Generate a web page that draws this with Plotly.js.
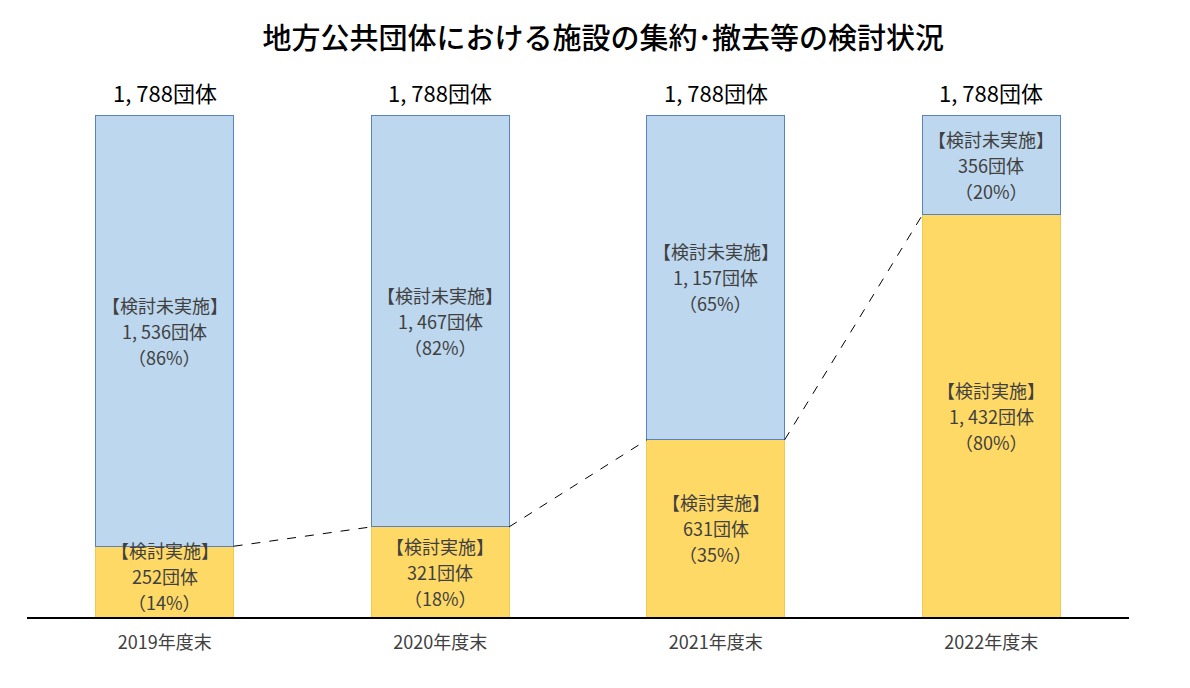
<!DOCTYPE html>
<html><head><meta charset="utf-8">
<script src="https://cdn.plot.ly/plotly-3.0.1.min.js"></script>
<style>html,body{margin:0;padding:0;background:#fff;}#chart{width:1190px;height:688px;}</style>
</head><body><div id="chart"></div>
<script>
const categories = ['2019年度末','2020年度末','2021年度末','2022年度末'];
const implemented = [252, 321, 631, 1432];
const notImplemented = [1536, 1467, 1157, 356];
const implementedPct = ['14%','18%','35%','80%'];
const notImplementedPct = ['86%','82%','65%','20%'];
const totals = [1788, 1788, 1788, 1788];
const implLabel = '【検討実施】';
const notImplLabel = '【検討未実施】';

const FONT = '"Liberation Sans Narrow", "Noto Sans CJK JP", sans-serif';
const fmt = n => n >= 1000 ? Math.floor(n/1000) + ', ' + String(n%1000).padStart(3,'0') : String(n);

const xs = categories.map((c,i)=>i);
const traces = [
  {type:'bar', x: xs, y: implemented, width:0.5,
   marker:{color:'#FFD966', line:{color:'#F2C94C', width:1}}, hoverinfo:'skip'},
  {type:'bar', x: xs, y: notImplemented, width:0.5,
   marker:{color:'#BDD7EE', line:{color:'#5A82C0', width:1}}, hoverinfo:'skip'}
];

const annotations = [];
function block(x, y, lines, shift){
  lines.forEach((t,k)=>{
    annotations.push({x:x, y:y, xref:'x', yref:'y', showarrow:false, yshift: shift + (1-k)*26,
      text:t, font:{family:FONT, size:18, color:'#404040'}, align:'center'});
  });
}
xs.forEach((x,i)=>{
  const small = implemented[i] < 300 ? 6 : 0;
  block(x, implemented[i]/2, [implLabel, fmt(implemented[i]) + '団体', '（' + implementedPct[i] + '）'], small);
  block(x, implemented[i] + notImplemented[i]/2, [notImplLabel, fmt(notImplemented[i]) + '団体', '（' + notImplementedPct[i] + '）'], 0);
  annotations.push({x:x, y:totals[i], xref:'x', yref:'y', yanchor:'bottom', yshift:5, showarrow:false,
    text: fmt(totals[i]) + '団体', font:{family:FONT, size:22, color:'#000'}});
});

const shapes = [];
for (let i=0;i<xs.length-1;i++){
  shapes.push({type:'line', xref:'x', yref:'y', x0:xs[i]+0.25, y0:implemented[i], x1:xs[i+1]-0.25, y1:implemented[i+1],
    line:{color:'#000', width:1, dash:'dash'}});
}

const layout = {
  width:1190, height:688,
  margin:{l:27, r:61, t:115, b:71},
  barmode:'stack', showlegend:false,
  paper_bgcolor:'#fff', plot_bgcolor:'#fff',
  title:{text:'地方公共団体における施設の集約･撤去等の検討状況', x:0.507, xanchor:'center', y:0.943, yanchor:'middle',
    font:{family:'"Noto Sans CJK JP", sans-serif', size:29, color:'#000', weight:500}},
  xaxis:{range:[-0.5,3.5], tickvals:xs, ticktext:categories, showgrid:false, zeroline:false,
    showline:true, linecolor:'#000', linewidth:2, ticks:'',
    tickfont:{family:FONT, size:18, color:'#404040'}, ticklabelstandoff:8, fixedrange:true},
  yaxis:{range:[0,1788], visible:false, showgrid:false, zeroline:false, fixedrange:true},
  annotations: annotations, shapes: shapes
};
Plotly.newPlot('chart', traces, layout, {displayModeBar:false, staticPlot:true});
</script></body></html>
